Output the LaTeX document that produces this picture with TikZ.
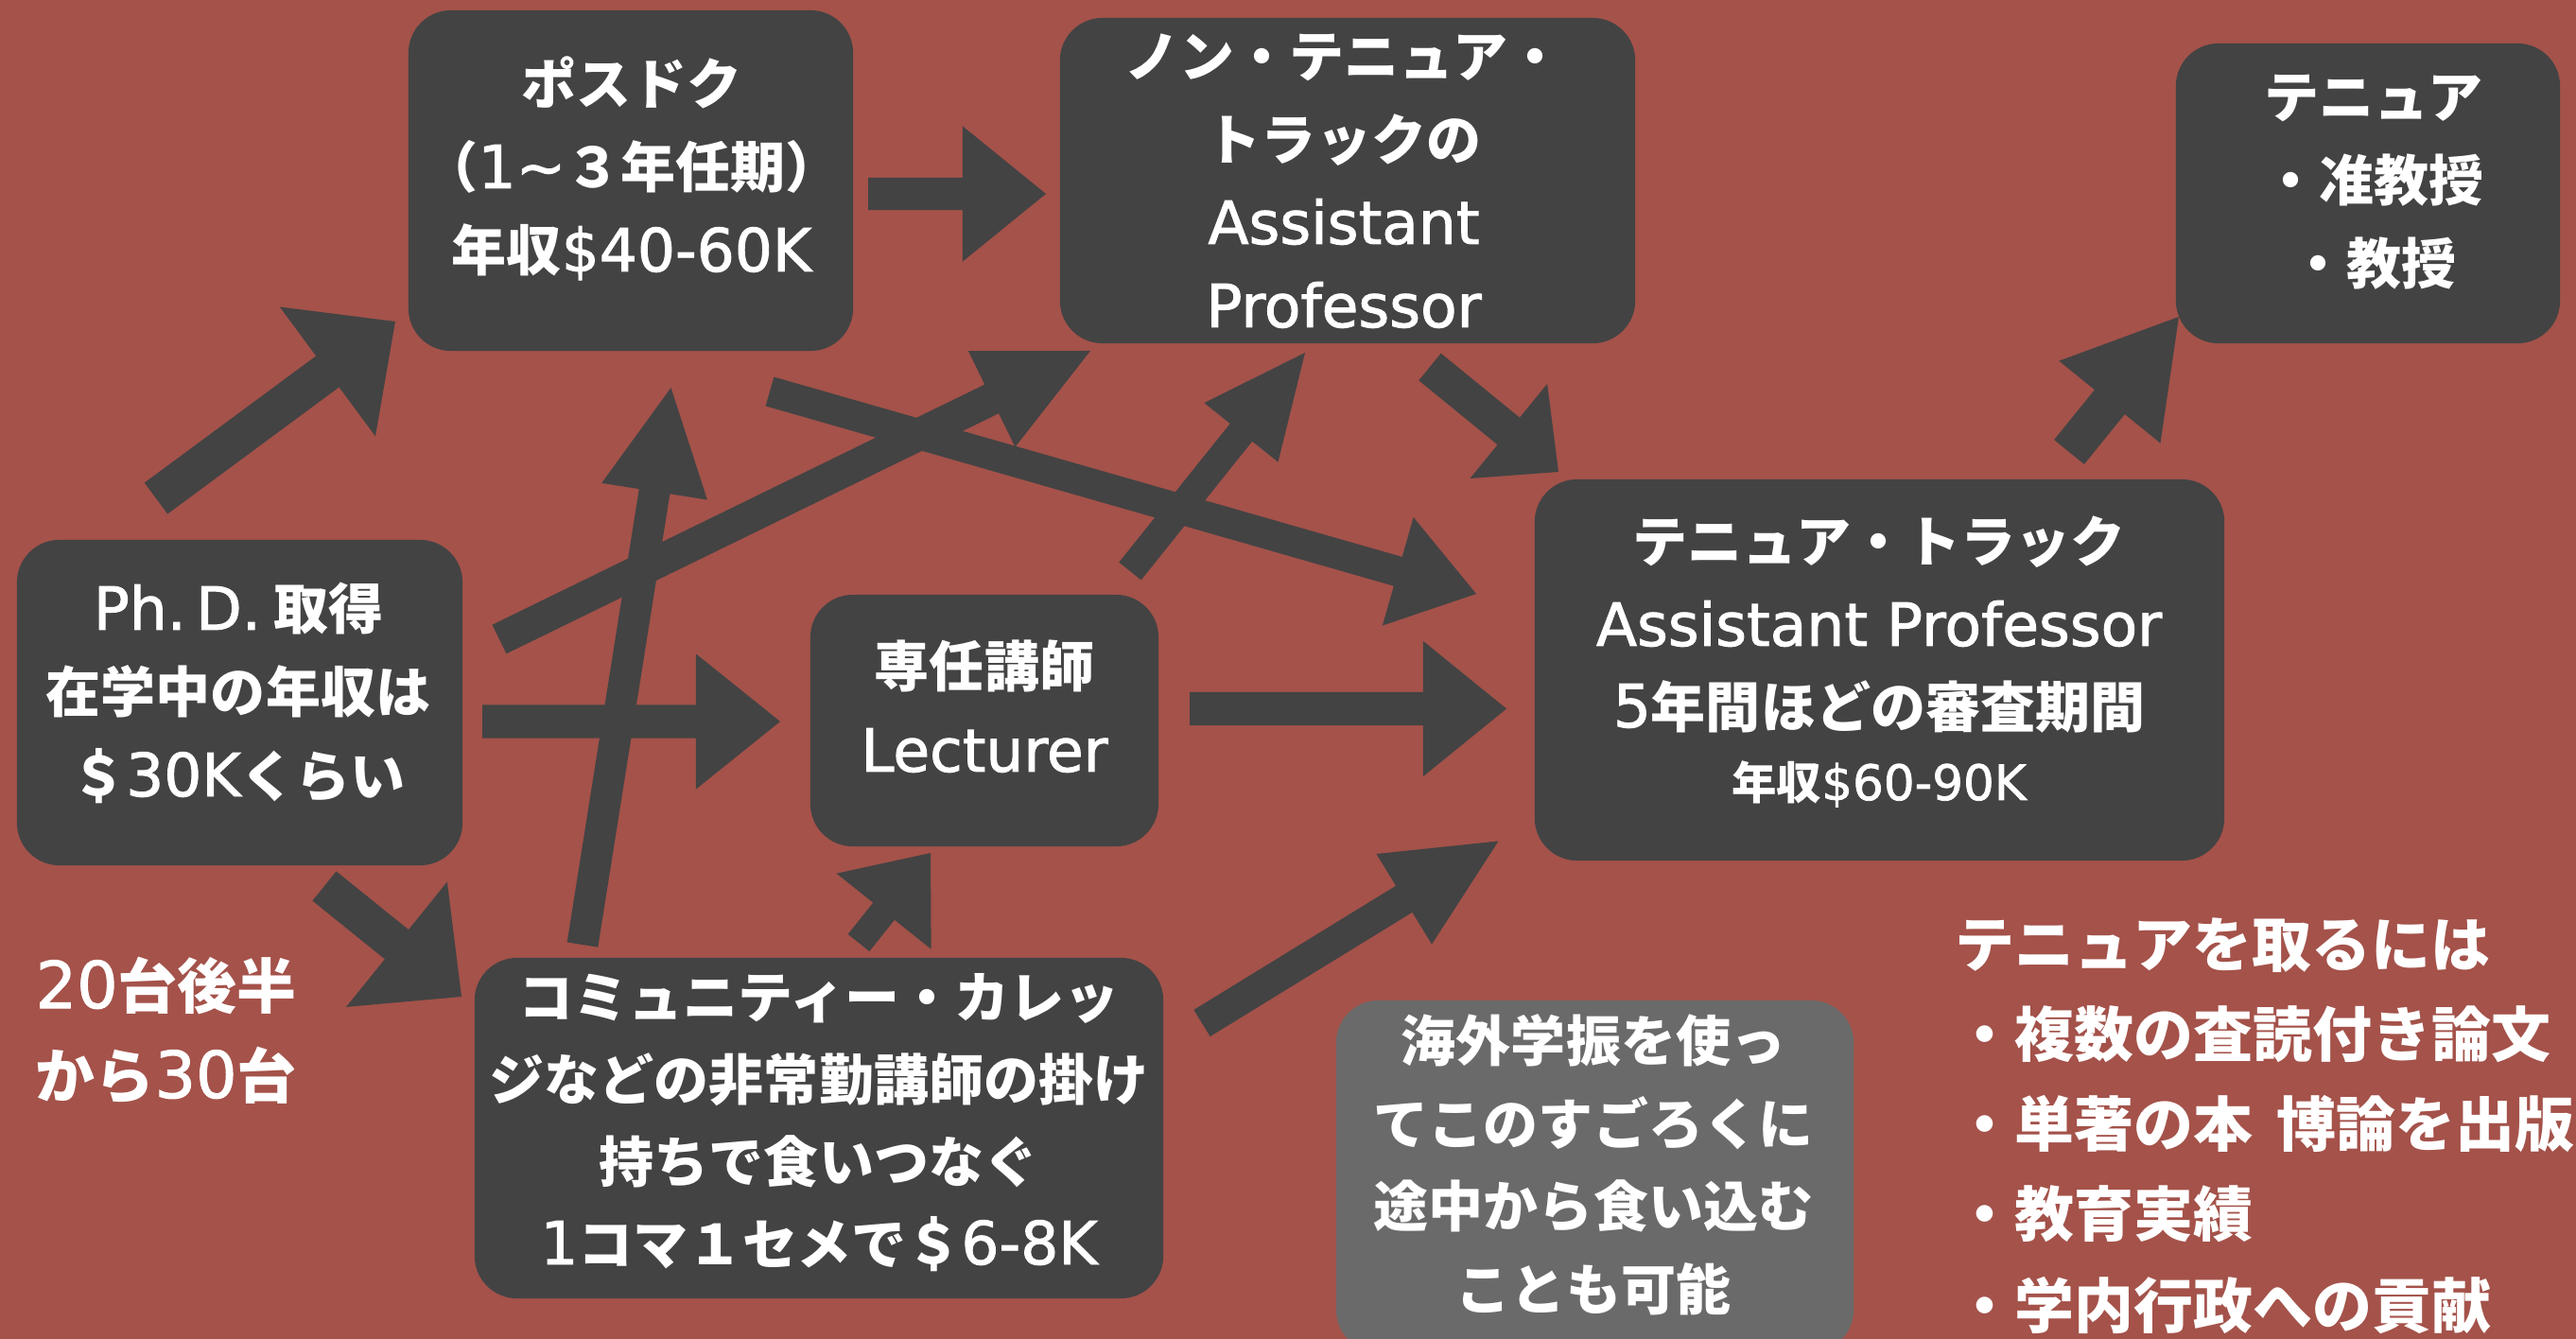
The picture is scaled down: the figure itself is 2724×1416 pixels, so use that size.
\documentclass[tikz,border=0pt]{standalone}
\usepackage{fontspec}
\usetikzlibrary{calc}
\newfontfamily\jpf{Noto Sans CJK JP}
\newfontfamily\lnf{DejaVu Sans}[Scale=1.086, UprightFeatures={FakeBold=1.5}]
\definecolor{bgc}{RGB}{164,82,74}
\definecolor{boxc}{RGB}{67,67,67}
\definecolor{grayc}{RGB}{106,106,106}
\definecolor{arrowc}{RGB}{67,67,67}
\newcommand\E[1]{{\lnf\mdseries #1}}
\newcounter{lnno}
\newcommand\tline[4][txt]{\stepcounter{lnno}\node[#1] (ln\arabic{lnno}) at (#2,#3) {#4};}
\newcommand\boxnode[6][box]{\node[#1, minimum width=#5, minimum height=#6] (#2) at (#3,#4) {};}
% #1 tail, #2 tip, #3 half shaft width, #4 head length, #5 half head width
\newcommand\blockarrow[5]{%
  \coordinate (hb) at ($(#2)!#4!(#1)$);
  \fill[arrowc] ($(#1)!#3!90:(#2)$) -- ($(hb)!#3!90:(#2)$) -- ($(hb)!#5!90:(#2)$) -- (#2)
    -- ($(hb)!#5!-90:(#2)$) -- ($(hb)!#3!-90:(#2)$) -- ($(#1)!#3!-90:(#2)$) -- cycle;}
\tikzset{
  box/.style={rectangle, rounded corners=0.45cm, fill=boxc, inner sep=0pt},
  graybox/.style={box, fill=grayc},
  txt/.style={text=white, inner sep=0pt, anchor=base, font=\jpf\bfseries\fontsize{16.5pt}{25pt}\selectfont},
  smalltxt/.style={txt, font=\jpf\bfseries\fontsize{13.5pt}{20pt}\selectfont},
  bigtxt/.style={txt, anchor=base west, font=\jpf\bfseries\fontsize{17.9pt}{27pt}\selectfont},
}
\begin{document}
\begin{tikzpicture}[x=0.01cm, y=-0.01cm]
\useasboundingbox (0,0) rectangle (2724,1416);
\fill[bgc] (0,0) rectangle (2724,1416);
\clip (0,0) rectangle (2724,1416);
% boxes
\boxnode{postdoc}{667}{191}{4.70cm}{3.60cm}
\boxnode{nontenure}{1425}{191}{6.08cm}{3.44cm}
\boxnode{tenure}{2504}{204.5}{4.06cm}{3.17cm}
\boxnode{tt}{1987.5}{708.5}{7.29cm}{4.03cm}
\boxnode{phd}{253.5}{743}{4.71cm}{3.44cm}
\boxnode{lect}{1041}{762}{3.68cm}{2.66cm}
\boxnode{cc}{866}{1193}{7.28cm}{3.60cm}
\boxnode[graybox]{gakushin}{1686.5}{1244}{5.47cm}{3.72cm}
% arrow end points
\coordinate (a1t) at (165,527);   \coordinate (a1h) at (418,340);
\coordinate (a2t) at (918,205);   \coordinate (a2h) at (1106,205);
\coordinate (a3t) at (814,414);   \coordinate (a3h) at (1561,628);
\coordinate (a4t) at (528,676);   \coordinate (a4h) at (1153,371);
\coordinate (a5t) at (510,763);   \coordinate (a5h) at (825,763);
\coordinate (a6t) at (343,937);   \coordinate (a6h) at (488,1054);
\coordinate (a7t) at (616,999);   \coordinate (a7h) at (709.5,410);
\coordinate (a8t) at (908,997);   \coordinate (a8h) at (984,902);
\coordinate (a9t) at (1271,1082); \coordinate (a9h) at (1584.5,889.5);
\coordinate (a10t) at (1195,604); \coordinate (a10h) at (1380,373);
\coordinate (a11t) at (1258,749.5); \coordinate (a11h) at (1593,749.5);
\coordinate (a12t) at (1512,388); \coordinate (a12h) at (1648,499);
\coordinate (a13t) at (2188,478); \coordinate (a13h) at (2304,335);
% arrows
\blockarrow{a1t}{a1h}{0.205cm}{0.89cm}{0.85cm}
\blockarrow{a2t}{a2h}{0.17cm}{0.88cm}{0.715cm}
\blockarrow{a3t}{a3h}{0.16cm}{0.86cm}{0.595cm}
\blockarrow{a4t}{a4h}{0.17cm}{1.16cm}{0.565cm}
\blockarrow{a5t}{a5h}{0.175cm}{0.89cm}{0.715cm}
\blockarrow{a6t}{a6h}{0.20cm}{0.88cm}{0.85cm}
\blockarrow{a7t}{a7h}{0.165cm}{1.11cm}{0.565cm}
\blockarrow{a8t}{a8h}{0.145cm}{0.79cm}{0.64cm}
\blockarrow{a9t}{a9h}{0.165cm}{1.17cm}{0.56cm}
\blockarrow{a10t}{a10h}{0.15cm}{1.08cm}{0.50cm}
\blockarrow{a11t}{a11h}{0.175cm}{0.88cm}{0.715cm}
\blockarrow{a12t}{a12h}{0.185cm}{0.68cm}{0.645cm}
\blockarrow{a13t}{a13h}{0.205cm}{1.16cm}{0.69cm}
% texts: postdoc
\tline{668}{111}{ポスドク}
\tline{668}{199}{（\E{1\textasciitilde}３年任期）}
\tline{668}{287}{年収\E{\$40-60K}}
% non tenure
\tline{1421}{82}{ノン・テニュア・}
\tline{1421}{170}{トラックの}
\tline{1421}{258}{\E{Assistant}}
\tline{1421}{346}{\E{Professor}}
% tenure
\tline{2510}{125}{テニュア}
\tline{2510}{213}{・准教授}
\tline{2510}{301}{・教授}
% phd
\tline{252}{666}{\E{Ph.\,D.} 取得}
\tline{252}{754}{在学中の年収は}
\tline{252}{842}{＄\E{30K}くらい}
% lecturer
\tline{1041}{727}{専任講師}
\tline{1041}{816}{\E{Lecturer}}
% tenure track
\tline{1987}{595}{テニュア・トラック}
\tline{1987}{683}{\E{Assistant Professor}}
\tline{1987}{769}{\E{5}年間ほどの審査期間}
\tline[smalltxt]{1987}{846}{年収\E{\$60-90K}}
% community college
\tline{866}{1076}{コミュニティー・カレッ}
\tline{866}{1163}{ジなどの非常勤講師の掛け}
\tline{866}{1250}{持ちで食いつなぐ}
\tline{866}{1337}{\E{1}コマ１セメで＄\E{6-8K}}
% gakushin
\tline{1685}{1122}{海外学振を使っ}
\tline{1685}{1210}{てこのすごろくに}
\tline{1685}{1297}{途中から食い込む}
\tline{1685}{1385}{ことも可能}
% age
\tline[bigtxt]{37}{1066}{\E{20}台後半}
\tline[bigtxt]{37}{1161}{から\E{30}台}
% requirements
\tline[bigtxt]{2067}{1022}{テニュアを取るには}
\tline[bigtxt]{2067}{1117}{・複数の査読付き論文}
\tline[bigtxt]{2067}{1212}{・単著の本\hspace{0.25cm}博論を出版}
\tline[bigtxt]{2067}{1307}{・教育実績}
\tline[bigtxt]{2067}{1404}{・学内行政への貢献}
\end{tikzpicture}
\end{document}
